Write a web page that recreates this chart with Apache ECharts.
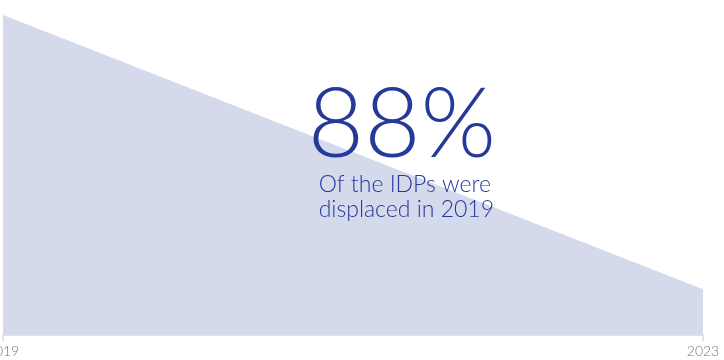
<!DOCTYPE html>
<html>
<head>
<meta charset="utf-8">
<script src="https://cdn.jsdelivr.net/npm/echarts@6/dist/echarts.min.js"></script>
<style>
  html, body { margin: 0; padding: 0; background: #fff; }
  #chart { width: 724px; height: 360px; }
</style>
</head>
<body>
<div id="chart"></div>
<script>
// Share of IDPs by year of displacement
const years = ['2019', '2023'];
const shareValues = [88, 12.6];
const headline = '88%';
const captionLines = ['Of the IDPs were', 'displaced in 2019'];

const chart = echarts.init(document.getElementById('chart'), null, { renderer: 'canvas' });

const textFont = 'Lato, "Open Sans", "DejaVu Sans", sans-serif';
const ink = '#25399a';

chart.setOption({
  animation: false,
  grid: { left: 3, right: 21, top: 15, bottom: 25, containLabel: false, outerBoundsMode: 'none' },
  xAxis: {
    type: 'category',
    data: years,
    boundaryGap: false,
    axisLine: { show: true, lineStyle: { color: '#dadada', width: 1.5 } },
    axisTick: { show: true, alignWithLabel: true, length: 6, lineStyle: { color: '#dadada', width: 1.5 } },
    axisLabel: { color: '#757575', fontSize: 14, fontFamily: textFont, fontWeight: 300, margin: 9 }
  },
  yAxis: {
    type: 'value',
    min: 0,
    max: 88,
    show: false,
    splitLine: { show: false }
  },
  series: [{
    type: 'line',
    data: shareValues,
    symbol: 'none',
    lineStyle: { width: 0 },
    areaStyle: { color: '#d4d9eb', opacity: 1 }
  }],
  graphic: [
    {
      type: 'text',
      right: 724 - 496,
      top: 77,
      z: 10,
      style: {
        text: headline,
        fill: ink,
        font: '300 97px ' + textFont,
        textAlign: 'right'
      }
    },
    {
      type: 'text',
      right: 724 - 494,
      top: 172,
      z: 10,
      style: {
        text: captionLines.join('\n'),
        fill: ink,
        font: '300 23px ' + textFont,
        lineHeight: 25,
        align: 'right'
      }
    }
  ]
});
</script>
</body>
</html>
